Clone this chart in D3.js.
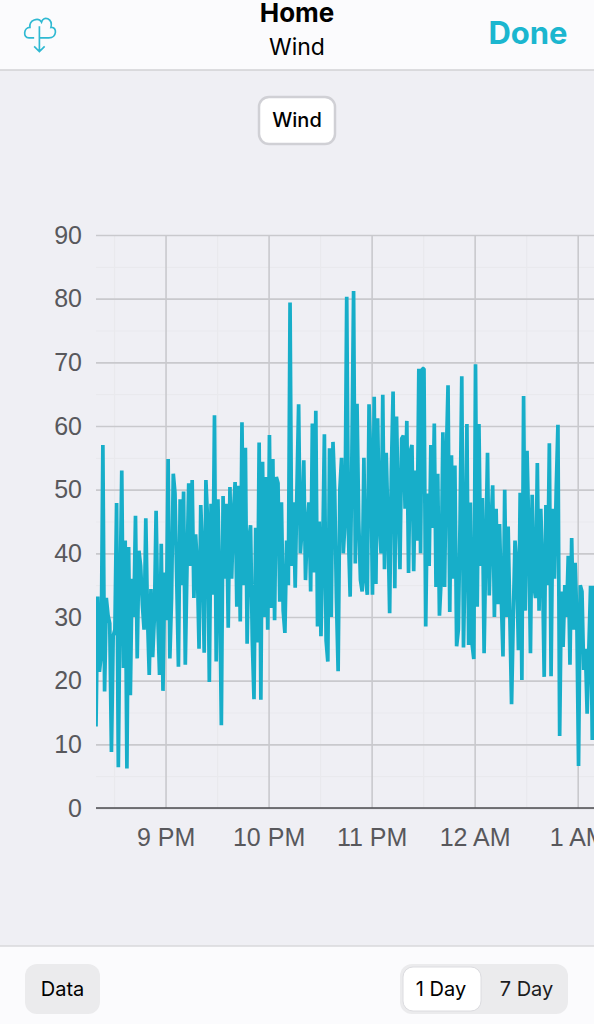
<!DOCTYPE html>
<html>
<head>
<meta charset="utf-8">
<script src="https://cdn.jsdelivr.net/npm/d3@7"></script>
<style>
  html, body { margin: 0; padding: 0; background: #efeff4; overflow: hidden; }
  svg { display: block; }
  .ui { font-family: Inter, Roboto, sans-serif; }
  .tick text { font-family: "Liberation Sans", Arial, sans-serif; font-size: 25px; fill: #58585c; }
</style>
</head>
<body>
<div id="chart"></div>
<script>
// wind readings, one per minute starting at 8:19 PM
const wind = [
  12.8,33.2,21.4,24,57,18.3,33,30.3,29,8.8,27,28,47.9,6.4,33,53,22,42,6.2,41,
  17.7,36,30,45.9,23.5,40.4,38,32,28,45.5,30,20.9,34.4,23.7,30,46.7,30,20.9,41.5,18.4,
  37,29.5,54.8,23.5,33,52.5,49.4,36,22.2,48.5,35,49.7,22.5,38,51,38,51.5,33,43,38,
  25,47.6,40,24.4,51.5,45,19.8,47.8,33.5,61.7,23,48.5,35,13,49,36,47.8,28.3,50.4,36,
  46,51.2,31.6,50.6,29.3,60.6,35,56.6,25.8,42,44.4,26.5,17.1,44,26,57.4,17,54.4,30,52,
  28,58.6,31.4,54.8,29.5,52,51,32.4,48,31,27.5,42,35,79.4,38,48,34.6,50,63.4,40,
  44,54.6,35.8,44,48,34,60.4,37,62.4,28.5,45,27,40,58.7,26.3,23,56.5,30,57.5,50,
  33,21.5,50,55,40,45,80.3,43,33.2,55,81.2,38.4,63.5,45,35.8,34,55,36,33.5,63.4,
  55,33.5,64.6,35.2,61.2,45,40,64.9,37.5,55.8,45,30.6,53,65.4,34.5,61.5,48,37.5,58,58.5,
  47,60.8,36.9,56,57,37.2,53,42,69,40,69,69,28.5,49.4,38,57,44,60.4,34.7,52.5,
  30.2,36,59,34.7,55,66.4,30.8,55.4,36,53.8,25.4,28,45,67.8,25.2,40,60.3,25.6,48,25.8,
  23.4,69.7,31.6,60.3,38,48.7,24.3,41,55.8,33.4,44,50.7,30,47,32,44.6,33,23.8,50,30,
  44.2,30,16.3,30,42,38,24.8,49.5,20.1,64.7,31,56.1,44,24.3,49.2,35,33,54.2,31,47,
  38,20.6,47.6,35,57.3,20.7,47,36,50,60.2,11.3,34,25.3,35,30,39.6,22.5,42.4,28,38.5,
  30,6.6,35,34,21.7,25,14.8,25,34.9,10.7,34.9,20
];
const yTicks = [0, 10, 20, 30, 40, 50, 60, 70, 80, 90];
const yMinorTicks = [5, 15, 25, 35, 45, 55, 65, 75, 85];

const startTime = new Date(2021, 0, 1, 20, 19, 30);
const endTime = new Date(2021, 0, 2, 1, 9, 30);

const width = 594;
const height = 1024;
const plot = { left: 96, right: 594, top: 235, bottom: 808 };
const teal = "#17aec9";
const barColor = "#fbfbfd";

const svg = d3.select("#chart").append("svg")
    .attr("width", width)
    .attr("height", height);

svg.append("rect").attr("width", width).attr("height", height).attr("fill", "#efeff4");

const x = d3.scaleTime().domain([startTime, endTime]).range([plot.left, plot.right]);
const y = d3.scaleLinear().domain([0, 90]).range([plot.bottom, plot.top]);

// hour ticks and the faint half hour lines in between
const hourTicks = d3.timeHour.range(startTime, endTime);
const halfHourTicks = d3.timeMinute.every(30).range(startTime, endTime).filter(d => d.getMinutes() == 30);

const plotHeight = plot.bottom - plot.top;
const plotWidth = plot.right - plot.left;

function GridLines(axisGenerator, transform, color, lineWidth) {
    const g = svg.append("g")
        .attr("transform", transform)
        .call(axisGenerator);
    g.select(".domain").remove();
    g.selectAll("line").attr("stroke", color).attr("stroke-width", lineWidth);
    return g;
}

// minor grid first so the major lines sit on top
GridLines(d3.axisBottom(x).tickValues(halfHourTicks).tickSize(-plotHeight).tickFormat(""),
    `translate(0,${plot.bottom})`, "#e9e9ed", 1.2);
GridLines(d3.axisLeft(y).tickValues(yMinorTicks).tickSize(-plotWidth).tickFormat(""),
    `translate(${plot.left},0)`, "#e9e9ed", 1.2);

GridLines(d3.axisLeft(y).tickValues(yTicks).tickSize(-plotWidth).tickPadding(14),
    `translate(${plot.left},0)`, "#c9c9cd", 1.6);

GridLines(d3.axisBottom(x).tickValues(hourTicks).tickSize(-plotHeight).tickPadding(20)
        .tickFormat(d3.timeFormat("%-I %p")),
    `translate(0,${plot.bottom})`, "#c9c9cd", 1.6);

// baseline
svg.append("line")
    .attr("x1", plot.left).attr("x2", plot.right)
    .attr("y1", y(0)).attr("y2", y(0))
    .attr("stroke", "#4c4c50").attr("stroke-width", 1.6);

svg.append("clipPath").attr("id", "plotClip")
    .append("rect")
    .attr("x", plot.left).attr("y", plot.top - 10)
    .attr("width", plotWidth).attr("height", plotHeight + 10);

const line = d3.line()
    .x((d, i) => x(d3.timeMinute.offset(startTime, i)))
    .y(d => y(d));

svg.append("path")
    .datum(wind)
    .attr("clip-path", "url(#plotClip)")
    .attr("d", line)
    .attr("fill", "none")
    .attr("stroke", teal)
    .attr("stroke-width", 3.7)
    .attr("stroke-linejoin", "bevel");

// top bar
svg.append("rect").attr("width", width).attr("height", 70).attr("fill", barColor);
svg.append("line").attr("x1", 0).attr("x2", width).attr("y1", 70).attr("y2", 70)
    .attr("stroke", "#d2d2d5").attr("stroke-width", 1.5);

function Label(text, px, py, size, weight, color, anchor) {
    return svg.append("text")
        .attr("class", "ui")
        .attr("x", px).attr("y", py)
        .attr("text-anchor", anchor || "middle")
        .attr("font-size", size)
        .attr("font-weight", weight)
        .attr("fill", color)
        .text(text);
}

Label("Home", 297, 22, 26, 700, "#000");
Label("Wind", 297, 55, 23, 400, "#000");
Label("Done", 528, 44, 31, 700, "#1bb6cf");

// download cloud icon
svg.append("path")
    .attr("d", "M33 38 H28 C22 38 23 28 29 28 C28 21 37 18 40 23 C42 16 51 20 49 28 C55 27 55 38 47 38 H38 M38 27 V51 M33 46 L38 51 L43 46")
    .attr("transform", "translate(-0.5,-2) scale(1.05)")
    .attr("fill", "none")
    .attr("stroke", "#2fb9d2")
    .attr("stroke-width", 1.6);

// Wind series button
svg.append("rect")
    .attr("x", 259).attr("y", 97).attr("width", 76).attr("height", 47).attr("rx", 10)
    .attr("fill", "#fff").attr("stroke", "#d0d0d5").attr("stroke-width", 2.5);
Label("Wind", 297, 127, 20, 500, "#000");

// bottom bar
svg.append("rect").attr("y", 946).attr("width", width).attr("height", 78).attr("fill", barColor);
svg.append("line").attr("x1", 0).attr("x2", width).attr("y1", 946).attr("y2", 946)
    .attr("stroke", "#d8d8db").attr("stroke-width", 1.5);

svg.append("rect")
    .attr("x", 25).attr("y", 964).attr("width", 75).attr("height", 50).attr("rx", 12)
    .attr("fill", "#ebebed");
Label("Data", 62.5, 996, 20, 400, "#000");

svg.append("rect")
    .attr("x", 400).attr("y", 964).attr("width", 168).attr("height", 50).attr("rx", 12)
    .attr("fill", "#ebebed");
svg.append("rect")
    .attr("x", 403).attr("y", 967).attr("width", 78).attr("height", 44).attr("rx", 10)
    .attr("fill", "#fff").attr("stroke", "#dcdce0").attr("stroke-width", 1);
Label("1 Day", 441, 996, 20, 400, "#000");
Label("7 Day", 526.5, 996, 20, 400, "#1c1c1e");
</script>
</body>
</html>
